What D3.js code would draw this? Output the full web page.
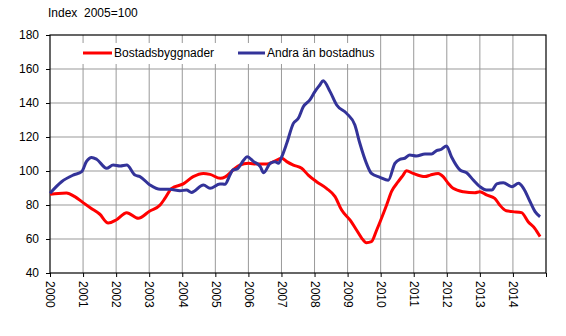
<!DOCTYPE html>
<html><head><meta charset="utf-8">
<script src="https://cdn.jsdelivr.net/npm/d3@7"></script>
<style>body{margin:0;background:#fff}svg{display:block}text{font-family:"Liberation Sans",Arial,sans-serif;font-size:12px;fill:#000}</style>
</head><body>
<script>
const years = d3.range(2000, 2015);
const yTicks = [40,60,80,100,120,140,160,180];
const seriesNames = ["Bostadsbyggnader", "Andra än bostadhus"];
const seriesColors = ["#ff0000", "#333399"];

const redT = [2000.0,2000.25,2000.5,2000.75,2001.0,2001.25,2001.5,2001.76,2002.0,2002.32,2002.67,2003.02,2003.33,2003.48,2003.68,2004.03,2004.33,2004.64,2004.84,2005.15,2005.3,2005.54,2005.74,2006.0,2006.25,2006.56,2006.76,2007.01,2007.16,2007.36,2007.61,2007.81,2008.06,2008.36,2008.62,2008.82,2009.07,2009.27,2009.43,2009.57,2009.72,2009.88,2009.98,2010.18,2010.33,2010.53,2010.68,2010.78,2010.98,2011.34,2011.5,2011.74,2011.89,2012.04,2012.19,2012.5,2012.85,2013.0,2013.2,2013.45,2013.6,2013.8,2014.0,2014.26,2014.46,2014.66,2014.82];
const redV = [86.3,86.8,87,84.9,81.4,78,74.7,69.4,71.2,75.5,72.2,76.5,80,84,89.8,92.4,96.7,98.6,98,95.7,96.5,100.6,103.5,104.5,104.1,104.1,105.5,107.5,105.5,103.5,101.6,97.6,93.7,89.8,84.9,77,71.2,65.3,60.4,57.8,58.4,65.3,70,80,88,93.7,97.6,100.2,98.6,96.7,97.6,98.6,96.7,92.8,89.8,87.8,87.2,87.8,85.9,83.9,80,76.6,76.1,75.5,70.2,66.3,61.4];

const blueT = [2000.0,2000.35,2000.7,2000.96,2001.1,2001.26,2001.41,2001.71,2001.91,2002.12,2002.32,2002.57,2002.72,2003.02,2003.33,2003.63,2003.93,2004.13,2004.28,2004.64,2004.84,2005.14,2005.29,2005.45,2005.53,2005.66,2005.86,2005.96,2006.16,2006.36,2006.46,2006.66,2006.81,2006.91,2007.01,2007.16,2007.36,2007.51,2007.66,2007.86,2008.01,2008.16,2008.26,2008.47,2008.67,2008.97,2009.22,2009.37,2009.57,2009.72,2009.98,2010.23,2010.43,2010.58,2010.73,2010.88,2011.08,2011.34,2011.54,2011.69,2011.84,2011.99,2012.14,2012.4,2012.6,2012.8,2013.0,2013.2,2013.36,2013.51,2013.71,2013.97,2014.17,2014.32,2014.52,2014.67,2014.82];
const blueV = [86.9,93.7,97.6,99.6,105.5,108,106.9,101.6,103.5,102.9,103.5,97.6,96.7,91.8,89.2,89.2,88.4,88.8,87.4,91.8,89.8,92.4,92.2,98,100.6,101.2,106.5,108.4,105.5,102.6,99,104.5,105.5,104.5,108.4,116.3,128,131,137.8,141.8,146.7,150.6,153.1,146.7,138.8,133.9,127,116.3,104.5,98.6,96.3,94.5,104.5,106.9,107.5,109.4,108.8,110,110,112,112.8,114.7,108.4,100.6,99,94.7,90.8,88.8,88.8,92.4,93.1,90.8,92.8,89.8,81.9,76.1,73.1];

const W = 566, H = 336;
const L = 50, R = 546, T = 35, B = 273;
const svg = d3.select("body").append("svg").attr("width", W).attr("height", H);
const x = d3.scaleLinear().domain([2000, 2015]).range([L, R]);
const y = d3.scaleLinear().domain([40, 180]).range([B, T]);

// gridlines
const g = svg.append("g");
g.selectAll("line.v").data(years.slice(1)).join("line")
  .attr("x1", d => x(d)).attr("x2", d => x(d)).attr("y1", T).attr("y2", B)
  .attr("stroke", "#999").attr("stroke-width", 1);
g.selectAll("line.h").data(yTicks.slice(1, -1)).join("line")
  .attr("x1", L).attr("x2", R).attr("y1", d => y(d)).attr("y2", d => y(d))
  .attr("stroke", "#999").attr("stroke-width", 1);

// legend background
svg.append("rect").attr("x", 76).attr("y", 43).attr("width", 302).attr("height", 21).attr("fill", "#fff");

// border
svg.append("rect").attr("x", L).attr("y", T).attr("width", R - L).attr("height", B - T)
  .attr("fill", "none").attr("stroke", "#000").attr("stroke-width", 1.2);

// axes
const yAxis = d3.axisLeft(y).tickValues(yTicks).tickSize(4).tickPadding(7);
svg.append("g").attr("transform", `translate(${L},0)`).call(yAxis)
  .call(a => a.select(".domain").remove())
  .call(a => a.selectAll("text").style("font-size", "12px").style("font-family", "'Liberation Sans',Arial,sans-serif").attr("fill", "#000"))
  .call(a => a.selectAll("line").attr("stroke", "#000"));
const xAxis = d3.axisBottom(x).tickValues(d3.range(2000, 2016)).tickSize(4).tickFormat(d => d < 2015 ? d : "");
svg.append("g").attr("transform", `translate(0,${B})`).call(xAxis)
  .call(a => a.select(".domain").remove())
  .call(a => a.selectAll("line").attr("stroke", "#000"))
  .call(a => a.selectAll("text")
    .style("font-size", "12px").style("font-family", "'Liberation Sans',Arial,sans-serif").attr("fill", "#000")
    .attr("transform", "rotate(90)").attr("x", 8).attr("y", 0).attr("dy", "0.35em").attr("text-anchor", "start"));

// lines
const line = d3.line().x(d => x(d[0])).y(d => y(d[1])).curve(d3.curveMonotoneX);
const red = redT.map((t, i) => [t, redV[i]]);
const blue = blueT.map((t, i) => [t, blueV[i]]);
svg.append("path").datum(red).attr("d", line).attr("fill", "none").attr("stroke", seriesColors[0]).attr("stroke-width", 3).attr("stroke-linejoin", "round");
svg.append("path").datum(blue).attr("d", line).attr("fill", "none").attr("stroke", seriesColors[1]).attr("stroke-width", 3).attr("stroke-linejoin", "round");

// legend
const leg = [{x1: 83, x2: 112, tx: 114}, {x1: 238, x2: 265, tx: 267}];
leg.forEach((l, i) => {
  svg.append("line").attr("x1", l.x1).attr("x2", l.x2).attr("y1", 53).attr("y2", 53)
    .attr("stroke", seriesColors[i]).attr("stroke-width", 3);
  svg.append("text").attr("x", l.tx).attr("y", 53).attr("dy", "0.35em").text(seriesNames[i]);
});

// title
svg.append("text").attr("x", 48).attr("y", 17).style("white-space", "pre").attr("xml:space", "preserve").text("Index  2005=100");
</script>
</body></html>
